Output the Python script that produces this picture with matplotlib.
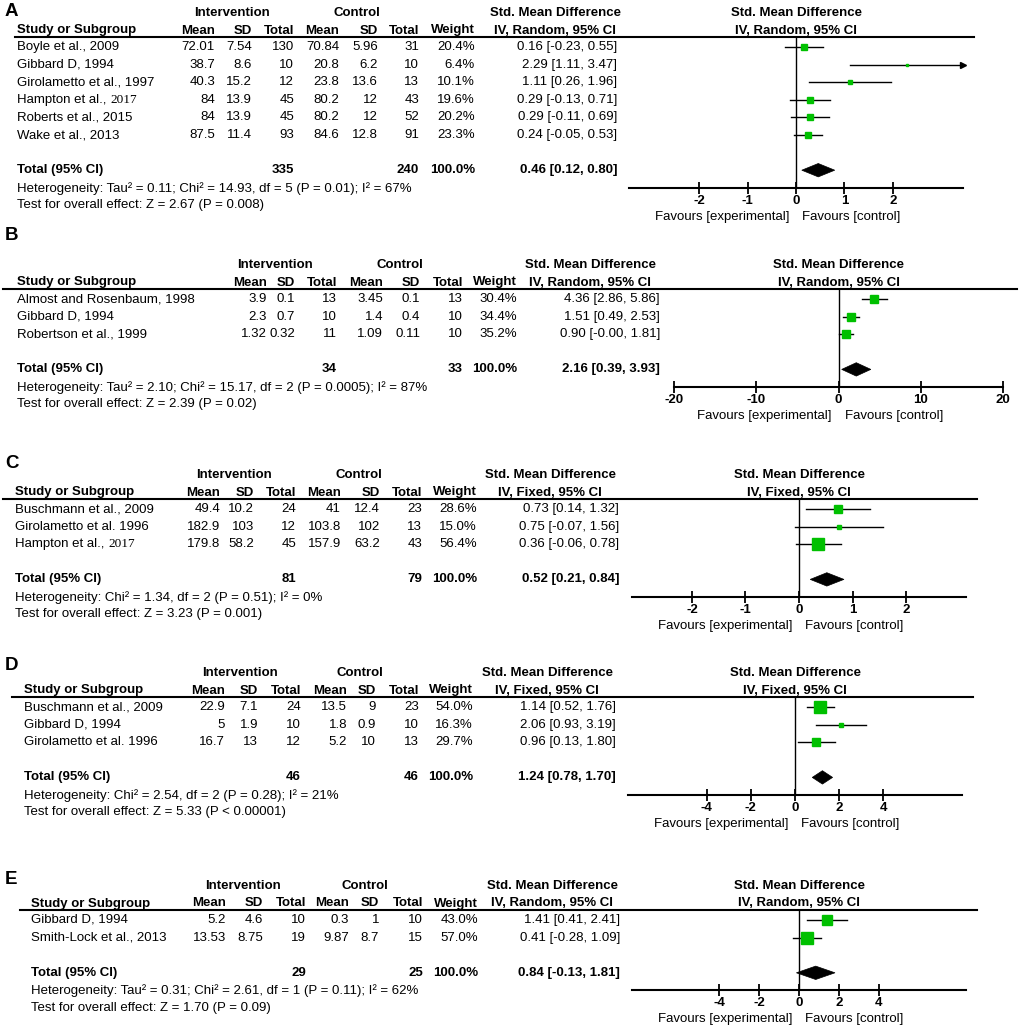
import matplotlib.pyplot as plt
from matplotlib.patches import Polygon

plt.rcParams['font.family'] = ['Liberation Sans', 'DejaVu Sans']

W, H = 1021, 1030
ROW = 17.6
FS = 9.5
GREEN = '#00c000'

# ---------------- data ----------------
a_studies = ['Boyle et al., 2009', 'Gibbard D, 1994', 'Girolametto et al., 1997',
             'Hampton et al., 2017', 'Roberts et al., 2015', 'Wake et al., 2013']
a_int_mean = [72.01, 38.7, 40.3, 84, 84, 87.5]
a_int_sd = [7.54, 8.6, 15.2, 13.9, 13.9, 11.4]
a_int_n = [130, 10, 12, 45, 45, 93]
a_ctl_mean = [70.84, 20.8, 23.8, 80.2, 80.2, 84.6]
a_ctl_sd = [5.96, 6.2, 13.6, 12, 12, 12.8]
a_ctl_n = [31, 10, 13, 43, 52, 91]
a_weight = [20.4, 6.4, 10.1, 19.6, 20.2, 23.3]
a_smd = [0.16, 2.29, 1.11, 0.29, 0.29, 0.24]
a_lo = [-0.23, 1.11, 0.26, -0.13, -0.11, -0.05]
a_hi = [0.55, 3.47, 1.96, 0.71, 0.69, 0.53]
a_total_n = [335, 240]
a_pooled = [0.46, 0.12, 0.80]
a_het = 'Heterogeneity: Tau² = 0.11; Chi² = 14.93, df = 5 (P = 0.01); I² = 67%'
a_test = 'Test for overall effect: Z = 2.67 (P = 0.008)'

b_studies = ['Almost and Rosenbaum, 1998', 'Gibbard D, 1994', 'Robertson et al., 1999']
b_int_mean = [3.9, 2.3, 1.32]
b_int_sd = [0.1, 0.7, 0.32]
b_int_n = [13, 10, 11]
b_ctl_mean = [3.45, 1.4, 1.09]
b_ctl_sd = [0.1, 0.4, 0.11]
b_ctl_n = [13, 10, 10]
b_weight = [30.4, 34.4, 35.2]
b_smd = [4.36, 1.51, 0.90]
b_lo = [2.86, 0.49, -0.0]
b_hi = [5.86, 2.53, 1.81]
b_total_n = [34, 33]
b_pooled = [2.16, 0.39, 3.93]
b_het = 'Heterogeneity: Tau² = 2.10; Chi² = 15.17, df = 2 (P = 0.0005); I² = 87%'
b_test = 'Test for overall effect: Z = 2.39 (P = 0.02)'

c_studies = ['Buschmann et al., 2009', 'Girolametto et al. 1996', 'Hampton et al., 2017']
c_int_mean = [49.4, 182.9, 179.8]
c_int_sd = [10.2, 103, 58.2]
c_int_n = [24, 12, 45]
c_ctl_mean = [41, 103.8, 157.9]
c_ctl_sd = [12.4, 102, 63.2]
c_ctl_n = [23, 13, 43]
c_weight = [28.6, 15.0, 56.4]
c_smd = [0.73, 0.75, 0.36]
c_lo = [0.14, -0.07, -0.06]
c_hi = [1.32, 1.56, 0.78]
c_total_n = [81, 79]
c_pooled = [0.52, 0.21, 0.84]
c_het = 'Heterogeneity: Chi² = 1.34, df = 2 (P = 0.51); I² = 0%'
c_test = 'Test for overall effect: Z = 3.23 (P = 0.001)'

d_studies = ['Buschmann et al., 2009', 'Gibbard D, 1994', 'Girolametto et al. 1996']
d_int_mean = [22.9, 5, 16.7]
d_int_sd = [7.1, 1.9, 13]
d_int_n = [24, 10, 12]
d_ctl_mean = [13.5, 1.8, 5.2]
d_ctl_sd = [9, 0.9, 10]
d_ctl_n = [23, 10, 13]
d_weight = [54.0, 16.3, 29.7]
d_smd = [1.14, 2.06, 0.96]
d_lo = [0.52, 0.93, 0.13]
d_hi = [1.76, 3.19, 1.80]
d_total_n = [46, 46]
d_pooled = [1.24, 0.78, 1.70]
d_het = 'Heterogeneity: Chi² = 2.54, df = 2 (P = 0.28); I² = 21%'
d_test = 'Test for overall effect: Z = 5.33 (P < 0.00001)'

e_studies = ['Gibbard D, 1994', 'Smith-Lock et al., 2013']
e_int_mean = [5.2, 13.53]
e_int_sd = [4.6, 8.75]
e_int_n = [10, 19]
e_ctl_mean = [0.3, 9.87]
e_ctl_sd = [1, 8.7]
e_ctl_n = [10, 15]
e_weight = [43.0, 57.0]
e_smd = [1.41, 0.41]
e_lo = [0.41, -0.28]
e_hi = [2.41, 1.09]
e_total_n = [29, 25]
e_pooled = [0.84, -0.13, 1.81]
e_het = 'Heterogeneity: Tau² = 0.31; Chi² = 2.61, df = 1 (P = 0.11); I² = 62%'
e_test = 'Test for overall effect: Z = 1.70 (P = 0.09)'

# names whose year is set in a serif face in the original
SERIF_YEAR = ['Hampton et al., 2017']

# ---------------- layout (pixels) ----------------
panels = [
    dict(letter='A', model='Random', letter_y=11, top=37, name_x=17,
         cols=[215, 252, 294, 339, 378, 419, 475, 617], int_c=232, ctl_c=357, smd_c=555,
         px=(629, 963), line=(15, 974), xlim=(-3.45, 3.45), ticks=[-2, -1, 0, 1, 2],
         studies=a_studies, int_mean=a_int_mean, int_sd=a_int_sd, int_n=a_int_n,
         ctl_mean=a_ctl_mean, ctl_sd=a_ctl_sd, ctl_n=a_ctl_n, weight=a_weight,
         smd=a_smd, lo=a_lo, hi=a_hi, total_n=a_total_n, pooled=a_pooled, het=a_het, test=a_test),
    dict(letter='B', model='Random', letter_y=236, top=289, name_x=17,
         cols=[267, 295, 337, 383, 420, 463, 517, 660], int_c=275, ctl_c=400, smd_c=590,
         px=(674, 1003), line=(3, 1017), xlim=(-20, 20), ticks=[-20, -10, 0, 10, 20],
         studies=b_studies, int_mean=b_int_mean, int_sd=b_int_sd, int_n=b_int_n,
         ctl_mean=b_ctl_mean, ctl_sd=b_ctl_sd, ctl_n=b_ctl_n, weight=b_weight,
         smd=b_smd, lo=b_lo, hi=b_hi, total_n=b_total_n, pooled=b_pooled, het=b_het, test=b_test),
    dict(letter='C', model='Fixed', letter_y=463, top=499, name_x=15,
         cols=[220, 254, 296, 341, 380, 422, 477, 619], int_c=234, ctl_c=359, smd_c=550,
         px=(632, 966), line=(3, 977), xlim=(-3.12, 3.12), ticks=[-2, -1, 0, 1, 2],
         studies=c_studies, int_mean=c_int_mean, int_sd=c_int_sd, int_n=c_int_n,
         ctl_mean=c_ctl_mean, ctl_sd=c_ctl_sd, ctl_n=c_ctl_n, weight=c_weight,
         smd=c_smd, lo=c_lo, hi=c_hi, total_n=c_total_n, pooled=c_pooled, het=c_het, test=c_test),
    dict(letter='D', model='Fixed', letter_y=665, top=697, name_x=24,
         cols=[225, 258, 301, 347, 376, 419, 473, 616], int_c=240, ctl_c=360, smd_c=547,
         px=(628, 962), line=(12, 973), xlim=(-7.55, 7.55), ticks=[-4, -2, 0, 2, 4],
         studies=d_studies, int_mean=d_int_mean, int_sd=d_int_sd, int_n=d_int_n,
         ctl_mean=d_ctl_mean, ctl_sd=d_ctl_sd, ctl_n=d_ctl_n, weight=d_weight,
         smd=d_smd, lo=d_lo, hi=d_hi, total_n=d_total_n, pooled=d_pooled, het=d_het, test=d_test),
    dict(letter='E', model='Random', letter_y=880, top=910, name_x=31,
         cols=[226, 263, 306, 349, 379, 423, 478, 620], int_c=243, ctl_c=365, smd_c=552,
         px=(632, 966), line=(20, 977), xlim=(-8.4, 8.4), ticks=[-4, -2, 0, 2, 4],
         studies=e_studies, int_mean=e_int_mean, int_sd=e_int_sd, int_n=e_int_n,
         ctl_mean=e_ctl_mean, ctl_sd=e_ctl_sd, ctl_n=e_ctl_n, weight=e_weight,
         smd=e_smd, lo=e_lo, hi=e_hi, total_n=e_total_n, pooled=e_pooled, het=e_het, test=e_test),
]

fig = plt.figure(figsize=(W / 100, H / 100), dpi=100)
bg = fig.add_axes([0, 0, 1, 1])
bg.set_xlim(0, W)
bg.set_ylim(H, 0)
bg.axis('off')


def txt(x, y, s, ha='left', bold=False, size=FS, **kw):
    return bg.text(x, y, s, ha=ha, va='center', fontsize=size,
                   fontweight='bold' if bold else 'normal', **kw)


def draw_panel(p):
    top = p['top']
    n = len(p['studies'])
    row0 = top + 10
    total_y = row0 + (n + 1) * ROW
    axis_y = row0 + (n + 2) * ROW
    x0, x1 = p['px']
    lo_lim, hi_lim = p['xlim']
    zero_px = x0 + (0 - lo_lim) / (hi_lim - lo_lim) * (x1 - x0)
    cols = p['cols']
    ci_head = 'IV, %s, 95%% CI' % p['model']

    # letter and headers
    txt(5, p['letter_y'], p['letter'], bold=True, size=13.5)
    h1 = top - 24
    h2 = top - 6.5
    txt(p['int_c'], h1, 'Intervention', ha='center', bold=True)
    txt(p['ctl_c'], h1, 'Control', ha='center', bold=True)
    txt(p['smd_c'], h1, 'Std. Mean Difference', ha='center', bold=True)
    txt(zero_px, h1, 'Std. Mean Difference', ha='center', bold=True)
    txt(p['name_x'], h2, 'Study or Subgroup', bold=True)
    for x, s in zip(cols[:7], ['Mean', 'SD', 'Total', 'Mean', 'SD', 'Total', 'Weight']):
        txt(x, h2, s, ha='right', bold=True)
    txt(p['smd_c'], h2, ci_head, ha='center', bold=True)
    txt(zero_px, h2, ci_head, ha='center', bold=True)
    bg.plot(p['line'], [top, top], color='black', lw=1.5)

    # study rows
    for i in range(n):
        y = row0 + i * ROW
        name = p['studies'][i]
        if name in SERIF_YEAR:
            head, year = name.rsplit(' ', 1)
            t = txt(p['name_x'], y, head + ' ')
            bg.annotate(year, xy=(1, 0), xycoords=t, ha='left', va='bottom',
                        fontsize=FS, family='Liberation Serif')
        else:
            txt(p['name_x'], y, name)
        vals = [p['int_mean'][i], p['int_sd'][i], p['int_n'][i],
                p['ctl_mean'][i], p['ctl_sd'][i], p['ctl_n'][i]]
        for x, v in zip(cols[:6], vals):
            txt(x, y, str(v), ha='right')
        txt(cols[6], y, '{:.1f}%'.format(p['weight'][i]), ha='right')
        txt(cols[7], y, '{:.2f} [{:.2f}, {:.2f}]'.format(p['smd'][i], p['lo'][i], p['hi'][i]), ha='right')

    # total and footers
    est, plo, phi = p['pooled']
    txt(p['name_x'], total_y, 'Total (95% CI)', bold=True)
    txt(cols[2], total_y, str(p['total_n'][0]), ha='right', bold=True)
    txt(cols[5], total_y, str(p['total_n'][1]), ha='right', bold=True)
    txt(cols[6], total_y, '100.0%', ha='right', bold=True)
    txt(cols[7], total_y, '{:.2f} [{:.2f}, {:.2f}]'.format(est, plo, phi), ha='right', bold=True)
    txt(p['name_x'], total_y + 18, p['het'])
    txt(p['name_x'], total_y + 35, p['test'])

    # forest plot
    ax = fig.add_axes([x0 / W, 1 - axis_y / H, (x1 - x0) / W, (axis_y - top) / H])
    ax.patch.set_alpha(0)
    ax.set_xlim(lo_lim, hi_lim)
    ax.set_ylim(n + 2, -10 / ROW)
    for s in ['top', 'left', 'right']:
        ax.spines[s].set_visible(False)
    ax.spines['bottom'].set_linewidth(1.5)
    ax.set_yticks([])
    ax.set_xticks(p['ticks'])
    ax.set_xticklabels([str(t) for t in p['ticks']], fontweight='bold')
    ax.tick_params(axis='x', direction='inout', length=8, width=1.3, labelsize=FS, pad=1)
    ax.axvline(0, color='black', lw=1, zorder=1)

    for i in range(n):
        lo, hi = p['lo'][i], p['hi'][i]
        if hi > hi_lim:
            ax.plot([lo, hi_lim], [i, i], color='black', lw=1, zorder=2)
            ax.plot(hi_lim, i, marker='>', color='black', ms=4.5, clip_on=False, zorder=2)
        else:
            ax.plot([lo, hi], [i, i], color='black', lw=1, zorder=2)
        side = 1.5 + 0.2 * p['weight'][i]
        ax.plot(p['smd'][i], i, marker='s', ms=side * 0.72, color=GREEN, mec=GREEN,
                ls='none', zorder=3)

    yd = n + 1
    ax.add_patch(Polygon([[plo, yd], [est, yd - 0.38], [phi, yd], [est, yd + 0.38]],
                         closed=True, fc='black', ec='black', lw=0.5, zorder=3))

    txt(zero_px - 7, axis_y + 29, 'Favours [experimental]', ha='right')
    txt(zero_px + 6, axis_y + 29, 'Favours [control]', ha='left')


for p in panels:
    draw_panel(p)

fig.savefig('out.png', dpi=100)
